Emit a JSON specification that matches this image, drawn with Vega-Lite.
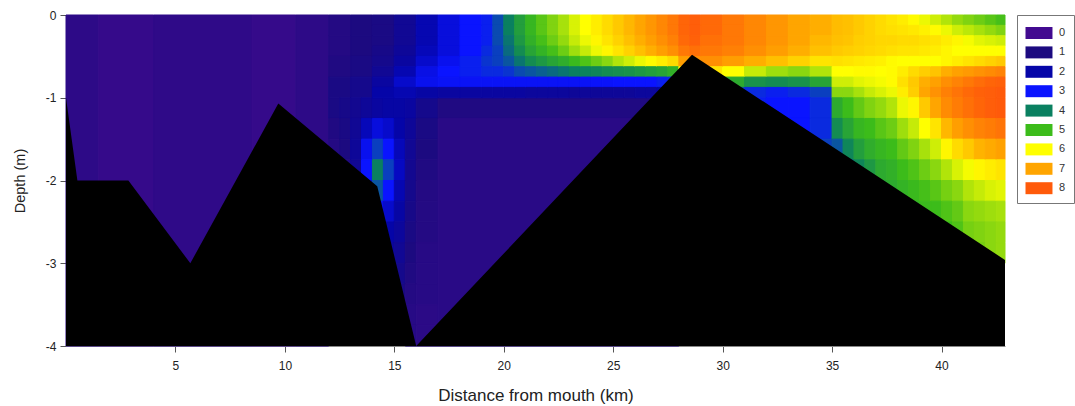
{
"$schema": "https://vega.github.io/schema/vega-lite/v6.json",
"width": 939, "height": 331,
"autosize": "none",
"padding": {"left": 66, "top": 15, "right": 70, "bottom": 60},
"background": "white",
"config": {"view": {"stroke": null}, "font": "Liberation Sans",
  "axis": {"grid": false, "tickSize": 6, "tickColor": "#555", "domainColor": "#888", "labelFontSize": 12, "labelColor": "#222", "titleFontWeight": "normal", "titleColor": "#222"}},
"layer": [
{
"data": {"values": [
{"x":0,"x2":1.5,"y":0,"y2":-4,"v":0.55},{"x":1.5,"x2":4,"y":0,"y2":-4,"v":0.35},{"x":4,"x2":8.5,"y":0,"y2":-4,"v":0.5},{"x":8.5,"x2":10.5,"y":0,"y2":-4,"v":0.35},{"x":10.5,"x2":12,"y":0,"y2":-4,"v":0.55},
{"x":12,"x2":13,"y":0,"y2":-0.25,"v":0.8},{"x":12,"x2":13,"y":-0.25,"y2":-0.5,"v":0.8},{"x":12,"x2":13,"y":-0.5,"y2":-0.75,"v":0.9},{"x":12,"x2":13,"y":-0.75,"y2":-1,"v":1.1},
{"x":13,"x2":14,"y":0,"y2":-0.25,"v":1.0},{"x":13,"x2":14,"y":-0.25,"y2":-0.5,"v":1.0},{"x":13,"x2":14,"y":-0.5,"y2":-0.75,"v":1.1},{"x":13,"x2":14,"y":-0.75,"y2":-1,"v":1.3},
{"x":12,"x2":12.5,"y":-1,"y2":-1.25,"v":1.1},{"x":12,"x2":12.5,"y":-1.25,"y2":-1.5,"v":0.9},{"x":12,"x2":12.5,"y":-1.5,"y2":-1.75,"v":0.8},
{"x":12.5,"x2":13,"y":-1,"y2":-1.25,"v":1.2},{"x":12.5,"x2":13,"y":-1.25,"y2":-1.5,"v":1.1},{"x":12.5,"x2":13,"y":-1.5,"y2":-1.75,"v":1.0},{"x":12.5,"x2":13,"y":-1.75,"y2":-2,"v":0.9},
{"x":13,"x2":13.5,"y":-1,"y2":-1.25,"v":1.4},{"x":13,"x2":13.5,"y":-1.25,"y2":-1.5,"v":1.5},{"x":13,"x2":13.5,"y":-1.5,"y2":-1.75,"v":1.6},{"x":13,"x2":13.5,"y":-1.75,"y2":-2,"v":1.5},
{"x":13.5,"x2":14,"y":-1,"y2":-1.25,"v":1.6},{"x":13.5,"x2":14,"y":-1.25,"y2":-1.5,"v":2.2},{"x":13.5,"x2":14,"y":-1.5,"y2":-1.75,"v":2.8},{"x":13.5,"x2":14,"y":-1.75,"y2":-2,"v":3.0},{"x":13.5,"x2":14,"y":-2,"y2":-2.25,"v":2.6},
{"x":14,"x2":14.5,"y":-1,"y2":-1.25,"v":1.8},{"x":14,"x2":14.5,"y":-1.25,"y2":-1.5,"v":2.6},{"x":14,"x2":14.5,"y":-1.5,"y2":-1.75,"v":3.4},{"x":14,"x2":14.5,"y":-1.75,"y2":-2,"v":4.0},{"x":14,"x2":14.5,"y":-2,"y2":-2.25,"v":3.6},{"x":14,"x2":14.5,"y":-2.25,"y2":-2.5,"v":2.8},
{"x":14.5,"x2":15,"y":-1,"y2":-1.25,"v":1.9},{"x":14.5,"x2":15,"y":-1.25,"y2":-1.5,"v":2.4},{"x":14.5,"x2":15,"y":-1.5,"y2":-1.75,"v":3.0},{"x":14.5,"x2":15,"y":-1.75,"y2":-2,"v":3.4},{"x":14.5,"x2":15,"y":-2,"y2":-2.25,"v":3.0},{"x":14.5,"x2":15,"y":-2.25,"y2":-2.5,"v":2.4},{"x":14.5,"x2":15,"y":-2.5,"y2":-2.75,"v":2.0},{"x":14.5,"x2":15,"y":-2.75,"y2":-3,"v":1.7},
{"x":15,"x2":15.5,"y":-1,"y2":-1.25,"v":1.9},{"x":15,"x2":15.5,"y":-1.25,"y2":-1.5,"v":2.0},{"x":15,"x2":15.5,"y":-1.5,"y2":-1.75,"v":2.2},{"x":15,"x2":15.5,"y":-1.75,"y2":-2,"v":2.3},{"x":15,"x2":15.5,"y":-2,"y2":-2.25,"v":2.1},{"x":15,"x2":15.5,"y":-2.25,"y2":-2.5,"v":1.9},{"x":15,"x2":15.5,"y":-2.5,"y2":-2.75,"v":1.7},{"x":15,"x2":15.5,"y":-2.75,"y2":-3,"v":1.5},{"x":15,"x2":15.5,"y":-3,"y2":-3.25,"v":1.3},{"x":15,"x2":15.5,"y":-3.25,"y2":-3.5,"v":1.1},
{"x":15.5,"x2":16,"y":-1,"y2":-1.25,"v":1.8},{"x":15.5,"x2":16,"y":-1.25,"y2":-1.5,"v":1.6},{"x":15.5,"x2":16,"y":-1.5,"y2":-1.75,"v":1.5},{"x":15.5,"x2":16,"y":-1.75,"y2":-2,"v":1.4},{"x":15.5,"x2":16,"y":-2,"y2":-2.25,"v":1.3},{"x":15.5,"x2":16,"y":-2.25,"y2":-2.5,"v":1.2},{"x":15.5,"x2":16,"y":-2.5,"y2":-2.75,"v":1.1},{"x":15.5,"x2":16,"y":-2.75,"y2":-3,"v":1.0},{"x":15.5,"x2":16,"y":-3,"y2":-3.25,"v":0.9},{"x":15.5,"x2":16,"y":-3.25,"y2":-3.5,"v":0.8},{"x":15.5,"x2":16,"y":-3.5,"y2":-3.75,"v":0.7},{"x":15.5,"x2":16,"y":-3.75,"y2":-4,"v":0.7},
{"x":16,"x2":17,"y":-1,"y2":-1.25,"v":1.3},{"x":16,"x2":17,"y":-1.25,"y2":-1.5,"v":1.1},{"x":16,"x2":17,"y":-1.5,"y2":-1.75,"v":1.0},{"x":16,"x2":17,"y":-1.75,"y2":-2,"v":0.9},{"x":16,"x2":17,"y":-2,"y2":-2.25,"v":0.8},{"x":16,"x2":17,"y":-2.25,"y2":-2.5,"v":0.8},{"x":16,"x2":17,"y":-2.5,"y2":-2.75,"v":0.8},{"x":16,"x2":17,"y":-2.75,"y2":-3,"v":0.7},{"x":16,"x2":17,"y":-3,"y2":-3.25,"v":0.7},{"x":16,"x2":17,"y":-3.25,"y2":-3.5,"v":0.7},{"x":16,"x2":17,"y":-3.5,"y2":-3.75,"v":0.6},{"x":16,"x2":17,"y":-3.75,"y2":-4,"v":0.6},
{"x":17,"x2":28,"y":-1,"y2":-1.25,"v":0.9},{"x":17,"x2":28,"y":-1.25,"y2":-4,"v":0.65},
{"x":14,"x2":15,"y":0,"y2":-0.125,"v":1.1},{"x":14,"x2":15,"y":-0.125,"y2":-0.25,"v":1.1},{"x":14,"x2":15,"y":-0.25,"y2":-0.375,"v":1.1},{"x":14,"x2":15,"y":-0.375,"y2":-0.5,"v":1.2},{"x":14,"x2":15,"y":-0.5,"y2":-0.625,"v":1.3},{"x":14,"x2":15,"y":-0.625,"y2":-0.75,"v":1.5},{"x":14,"x2":15,"y":-0.75,"y2":-0.875,"v":1.8},{"x":14,"x2":15,"y":-0.875,"y2":-1,"v":2.0},
{"x":15,"x2":16,"y":0,"y2":-0.125,"v":1.5},{"x":15,"x2":16,"y":-0.125,"y2":-0.25,"v":1.5},{"x":15,"x2":16,"y":-0.25,"y2":-0.375,"v":1.5},{"x":15,"x2":16,"y":-0.375,"y2":-0.5,"v":1.6},{"x":15,"x2":16,"y":-0.5,"y2":-0.625,"v":1.8},{"x":15,"x2":16,"y":-0.625,"y2":-0.75,"v":2.1},{"x":15,"x2":16,"y":-0.75,"y2":-0.875,"v":2.4},{"x":15,"x2":16,"y":-0.875,"y2":-1,"v":2.1},
{"x":16,"x2":17,"y":0,"y2":-0.125,"v":2.1},{"x":16,"x2":17,"y":-0.125,"y2":-0.25,"v":2.1},{"x":16,"x2":17,"y":-0.25,"y2":-0.375,"v":2.1},{"x":16,"x2":17,"y":-0.375,"y2":-0.5,"v":2.2},{"x":16,"x2":17,"y":-0.5,"y2":-0.625,"v":2.4},{"x":16,"x2":17,"y":-0.625,"y2":-0.75,"v":2.7},{"x":16,"x2":17,"y":-0.75,"y2":-0.875,"v":2.8},{"x":16,"x2":17,"y":-0.875,"y2":-1,"v":1.9},
{"x":17,"x2":18,"y":0,"y2":-0.125,"v":2.6},{"x":17,"x2":18,"y":-0.125,"y2":-0.25,"v":2.6},{"x":17,"x2":18,"y":-0.25,"y2":-0.375,"v":2.6},{"x":17,"x2":18,"y":-0.375,"y2":-0.5,"v":2.6},{"x":17,"x2":18,"y":-0.5,"y2":-0.625,"v":2.8},{"x":17,"x2":18,"y":-0.625,"y2":-0.75,"v":3.0},{"x":17,"x2":18,"y":-0.75,"y2":-0.875,"v":2.9},{"x":17,"x2":18,"y":-0.875,"y2":-1,"v":1.8},
{"x":18,"x2":19,"y":0,"y2":-0.125,"v":3.0},{"x":18,"x2":19,"y":-0.125,"y2":-0.25,"v":3.0},{"x":18,"x2":19,"y":-0.25,"y2":-0.375,"v":3.0},{"x":18,"x2":19,"y":-0.375,"y2":-0.5,"v":3.0},{"x":18,"x2":19,"y":-0.5,"y2":-0.625,"v":3.1},{"x":18,"x2":19,"y":-0.625,"y2":-0.75,"v":3.1},{"x":18,"x2":19,"y":-0.75,"y2":-0.875,"v":2.9},{"x":18,"x2":19,"y":-0.875,"y2":-1,"v":1.8},
{"x":19,"x2":19.5,"y":0,"y2":-0.125,"v":3.1},{"x":19,"x2":19.5,"y":-0.125,"y2":-0.25,"v":3.1},{"x":19,"x2":19.5,"y":-0.25,"y2":-0.375,"v":3.1},{"x":19,"x2":19.5,"y":-0.375,"y2":-0.5,"v":3.2},{"x":19,"x2":19.5,"y":-0.5,"y2":-0.625,"v":3.3},{"x":19,"x2":19.5,"y":-0.625,"y2":-0.75,"v":3.2},{"x":19,"x2":19.5,"y":-0.75,"y2":-0.875,"v":2.9},{"x":19,"x2":19.5,"y":-0.875,"y2":-1,"v":1.8},
{"x":19.5,"x2":20,"y":0,"y2":-0.125,"v":3.5},{"x":19.5,"x2":20,"y":-0.125,"y2":-0.25,"v":3.5},{"x":19.5,"x2":20,"y":-0.25,"y2":-0.375,"v":3.5},{"x":19.5,"x2":20,"y":-0.375,"y2":-0.5,"v":3.4},{"x":19.5,"x2":20,"y":-0.5,"y2":-0.625,"v":3.4},{"x":19.5,"x2":20,"y":-0.625,"y2":-0.75,"v":3.2},{"x":19.5,"x2":20,"y":-0.75,"y2":-0.875,"v":2.9},{"x":19.5,"x2":20,"y":-0.875,"y2":-1,"v":1.8},
{"x":20,"x2":20.5,"y":0,"y2":-0.125,"v":4.0},{"x":20,"x2":20.5,"y":-0.125,"y2":-0.25,"v":4.0},{"x":20,"x2":20.5,"y":-0.25,"y2":-0.375,"v":3.9},{"x":20,"x2":20.5,"y":-0.375,"y2":-0.5,"v":3.8},{"x":20,"x2":20.5,"y":-0.5,"y2":-0.625,"v":3.6},{"x":20,"x2":20.5,"y":-0.625,"y2":-0.75,"v":3.3},{"x":20,"x2":20.5,"y":-0.75,"y2":-0.875,"v":2.9},{"x":20,"x2":20.5,"y":-0.875,"y2":-1,"v":1.8},
{"x":20.5,"x2":21,"y":0,"y2":-0.125,"v":4.5},{"x":20.5,"x2":21,"y":-0.125,"y2":-0.25,"v":4.5},{"x":20.5,"x2":21,"y":-0.25,"y2":-0.375,"v":4.4},{"x":20.5,"x2":21,"y":-0.375,"y2":-0.5,"v":4.2},{"x":20.5,"x2":21,"y":-0.5,"y2":-0.625,"v":3.9},{"x":20.5,"x2":21,"y":-0.625,"y2":-0.75,"v":3.5},{"x":20.5,"x2":21,"y":-0.75,"y2":-0.875,"v":2.9},{"x":20.5,"x2":21,"y":-0.875,"y2":-1,"v":1.8},
{"x":21,"x2":21.5,"y":0,"y2":-0.125,"v":4.9},{"x":21,"x2":21.5,"y":-0.125,"y2":-0.25,"v":4.9},{"x":21,"x2":21.5,"y":-0.25,"y2":-0.375,"v":4.8},{"x":21,"x2":21.5,"y":-0.375,"y2":-0.5,"v":4.6},{"x":21,"x2":21.5,"y":-0.5,"y2":-0.625,"v":4.2},{"x":21,"x2":21.5,"y":-0.625,"y2":-0.75,"v":3.6},{"x":21,"x2":21.5,"y":-0.75,"y2":-0.875,"v":2.9},{"x":21,"x2":21.5,"y":-0.875,"y2":-1,"v":1.7},
{"x":21.5,"x2":22,"y":0,"y2":-0.125,"v":5.15},{"x":21.5,"x2":22,"y":-0.125,"y2":-0.25,"v":5.15},{"x":21.5,"x2":22,"y":-0.25,"y2":-0.375,"v":5.05},{"x":21.5,"x2":22,"y":-0.375,"y2":-0.5,"v":4.85},{"x":21.5,"x2":22,"y":-0.5,"y2":-0.625,"v":4.4},{"x":21.5,"x2":22,"y":-0.625,"y2":-0.75,"v":3.7},{"x":21.5,"x2":22,"y":-0.75,"y2":-0.875,"v":2.9},{"x":21.5,"x2":22,"y":-0.875,"y2":-1,"v":1.7},
{"x":22,"x2":22.5,"y":0,"y2":-0.125,"v":5.35},{"x":22,"x2":22.5,"y":-0.125,"y2":-0.25,"v":5.35},{"x":22,"x2":22.5,"y":-0.25,"y2":-0.375,"v":5.25},{"x":22,"x2":22.5,"y":-0.375,"y2":-0.5,"v":5.05},{"x":22,"x2":22.5,"y":-0.5,"y2":-0.625,"v":4.6},{"x":22,"x2":22.5,"y":-0.625,"y2":-0.75,"v":3.8},{"x":22,"x2":22.5,"y":-0.75,"y2":-0.875,"v":2.9},{"x":22,"x2":22.5,"y":-0.875,"y2":-1,"v":1.7},
{"x":22.5,"x2":23,"y":0,"y2":-0.125,"v":5.55},{"x":22.5,"x2":23,"y":-0.125,"y2":-0.25,"v":5.55},{"x":22.5,"x2":23,"y":-0.25,"y2":-0.375,"v":5.45},{"x":22.5,"x2":23,"y":-0.375,"y2":-0.5,"v":5.25},{"x":22.5,"x2":23,"y":-0.5,"y2":-0.625,"v":4.75},{"x":22.5,"x2":23,"y":-0.625,"y2":-0.75,"v":3.9},{"x":22.5,"x2":23,"y":-0.75,"y2":-0.875,"v":2.9},{"x":22.5,"x2":23,"y":-0.875,"y2":-1,"v":1.7},
{"x":23,"x2":23.5,"y":0,"y2":-0.125,"v":5.8},{"x":23,"x2":23.5,"y":-0.125,"y2":-0.25,"v":5.8},{"x":23,"x2":23.5,"y":-0.25,"y2":-0.375,"v":5.7},{"x":23,"x2":23.5,"y":-0.375,"y2":-0.5,"v":5.5},{"x":23,"x2":23.5,"y":-0.5,"y2":-0.625,"v":4.95},{"x":23,"x2":23.5,"y":-0.625,"y2":-0.75,"v":4.0},{"x":23,"x2":23.5,"y":-0.75,"y2":-0.875,"v":2.9},{"x":23,"x2":23.5,"y":-0.875,"y2":-1,"v":1.6},
{"x":23.5,"x2":24,"y":0,"y2":-0.125,"v":6.0},{"x":23.5,"x2":24,"y":-0.125,"y2":-0.25,"v":6.0},{"x":23.5,"x2":24,"y":-0.25,"y2":-0.375,"v":5.9},{"x":23.5,"x2":24,"y":-0.375,"y2":-0.5,"v":5.7},{"x":23.5,"x2":24,"y":-0.5,"y2":-0.625,"v":5.1},{"x":23.5,"x2":24,"y":-0.625,"y2":-0.75,"v":4.05},{"x":23.5,"x2":24,"y":-0.75,"y2":-0.875,"v":2.9},{"x":23.5,"x2":24,"y":-0.875,"y2":-1,"v":1.6},
{"x":24,"x2":24.5,"y":0,"y2":-0.125,"v":6.2},{"x":24,"x2":24.5,"y":-0.125,"y2":-0.25,"v":6.2},{"x":24,"x2":24.5,"y":-0.25,"y2":-0.375,"v":6.1},{"x":24,"x2":24.5,"y":-0.375,"y2":-0.5,"v":5.9},{"x":24,"x2":24.5,"y":-0.5,"y2":-0.625,"v":5.25},{"x":24,"x2":24.5,"y":-0.625,"y2":-0.75,"v":4.1},{"x":24,"x2":24.5,"y":-0.75,"y2":-0.875,"v":2.95},{"x":24,"x2":24.5,"y":-0.875,"y2":-1,"v":1.6},
{"x":24.5,"x2":25,"y":0,"y2":-0.125,"v":6.4},{"x":24.5,"x2":25,"y":-0.125,"y2":-0.25,"v":6.4},{"x":24.5,"x2":25,"y":-0.25,"y2":-0.375,"v":6.3},{"x":24.5,"x2":25,"y":-0.375,"y2":-0.5,"v":6.1},{"x":24.5,"x2":25,"y":-0.5,"y2":-0.625,"v":5.4},{"x":24.5,"x2":25,"y":-0.625,"y2":-0.75,"v":4.2},{"x":24.5,"x2":25,"y":-0.75,"y2":-0.875,"v":2.95},{"x":24.5,"x2":25,"y":-0.875,"y2":-1,"v":1.6},
{"x":25,"x2":25.5,"y":0,"y2":-0.125,"v":6.6},{"x":25,"x2":25.5,"y":-0.125,"y2":-0.25,"v":6.6},{"x":25,"x2":25.5,"y":-0.25,"y2":-0.375,"v":6.5},{"x":25,"x2":25.5,"y":-0.375,"y2":-0.5,"v":6.3},{"x":25,"x2":25.5,"y":-0.5,"y2":-0.625,"v":5.6},{"x":25,"x2":25.5,"y":-0.625,"y2":-0.75,"v":4.25},{"x":25,"x2":25.5,"y":-0.75,"y2":-0.875,"v":3.0},{"x":25,"x2":25.5,"y":-0.875,"y2":-1,"v":1.6},
{"x":25.5,"x2":26,"y":0,"y2":-0.125,"v":6.8},{"x":25.5,"x2":26,"y":-0.125,"y2":-0.25,"v":6.8},{"x":25.5,"x2":26,"y":-0.25,"y2":-0.375,"v":6.7},{"x":25.5,"x2":26,"y":-0.375,"y2":-0.5,"v":6.5},{"x":25.5,"x2":26,"y":-0.5,"y2":-0.625,"v":5.75},{"x":25.5,"x2":26,"y":-0.625,"y2":-0.75,"v":4.3},{"x":25.5,"x2":26,"y":-0.75,"y2":-0.875,"v":3.0},{"x":25.5,"x2":26,"y":-0.875,"y2":-1,"v":1.6},
{"x":26,"x2":26.5,"y":0,"y2":-0.125,"v":7.0},{"x":26,"x2":26.5,"y":-0.125,"y2":-0.25,"v":7.0},{"x":26,"x2":26.5,"y":-0.25,"y2":-0.375,"v":6.9},{"x":26,"x2":26.5,"y":-0.375,"y2":-0.5,"v":6.7},{"x":26,"x2":26.5,"y":-0.5,"y2":-0.625,"v":5.9},{"x":26,"x2":26.5,"y":-0.625,"y2":-0.75,"v":4.4},{"x":26,"x2":26.5,"y":-0.75,"y2":-0.875,"v":3.0},{"x":26,"x2":26.5,"y":-0.875,"y2":-1,"v":1.7},
{"x":26.5,"x2":27,"y":0,"y2":-0.125,"v":7.2},{"x":26.5,"x2":27,"y":-0.125,"y2":-0.25,"v":7.2},{"x":26.5,"x2":27,"y":-0.25,"y2":-0.375,"v":7.1},{"x":26.5,"x2":27,"y":-0.375,"y2":-0.5,"v":6.9},{"x":26.5,"x2":27,"y":-0.5,"y2":-0.625,"v":6.05},{"x":26.5,"x2":27,"y":-0.625,"y2":-0.75,"v":4.5},{"x":26.5,"x2":27,"y":-0.75,"y2":-0.875,"v":3.0},{"x":26.5,"x2":27,"y":-0.875,"y2":-1,"v":1.7},
{"x":27,"x2":27.5,"y":0,"y2":-0.125,"v":7.4},{"x":27,"x2":27.5,"y":-0.125,"y2":-0.25,"v":7.4},{"x":27,"x2":27.5,"y":-0.25,"y2":-0.375,"v":7.3},{"x":27,"x2":27.5,"y":-0.375,"y2":-0.5,"v":7.1},{"x":27,"x2":27.5,"y":-0.5,"y2":-0.625,"v":6.2},{"x":27,"x2":27.5,"y":-0.625,"y2":-0.75,"v":4.6},{"x":27,"x2":27.5,"y":-0.75,"y2":-0.875,"v":3.1},{"x":27,"x2":27.5,"y":-0.875,"y2":-1,"v":1.9},
{"x":27.5,"x2":28,"y":0,"y2":-0.125,"v":7.6},{"x":27.5,"x2":28,"y":-0.125,"y2":-0.25,"v":7.6},{"x":27.5,"x2":28,"y":-0.25,"y2":-0.375,"v":7.5},{"x":27.5,"x2":28,"y":-0.375,"y2":-0.5,"v":7.3},{"x":27.5,"x2":28,"y":-0.5,"y2":-0.625,"v":6.4},{"x":27.5,"x2":28,"y":-0.625,"y2":-0.75,"v":4.8},{"x":27.5,"x2":28,"y":-0.75,"y2":-0.875,"v":3.2},{"x":27.5,"x2":28,"y":-0.875,"y2":-1,"v":2.0},
{"x":28,"x2":28.5,"y":0,"y2":-0.125,"v":7.85},{"x":28,"x2":28.5,"y":-0.125,"y2":-0.25,"v":7.85},{"x":28,"x2":28.5,"y":-0.25,"y2":-0.375,"v":7.8},{"x":28,"x2":28.5,"y":-0.375,"y2":-0.5,"v":7.6},{"x":28,"x2":28.5,"y":-0.5,"y2":-0.625,"v":7.1},{"x":28,"x2":28.5,"y":-0.625,"y2":-0.75,"v":6.0},
{"x":28.5,"x2":29,"y":0,"y2":-0.125,"v":7.95},{"x":28.5,"x2":29,"y":-0.125,"y2":-0.25,"v":7.95},{"x":28.5,"x2":29,"y":-0.25,"y2":-0.375,"v":7.9},{"x":28.5,"x2":29,"y":-0.375,"y2":-0.5,"v":7.7},{"x":28.5,"x2":29,"y":-0.5,"y2":-0.625,"v":7.3},{"x":28.5,"x2":29,"y":-0.625,"y2":-0.75,"v":6.3},
{"x":29,"x2":30,"y":0,"y2":-0.125,"v":7.8},{"x":29,"x2":30,"y":-0.125,"y2":-0.25,"v":7.8},{"x":29,"x2":30,"y":-0.25,"y2":-0.375,"v":7.7},{"x":29,"x2":30,"y":-0.375,"y2":-0.5,"v":7.6},{"x":29,"x2":30,"y":-0.5,"y2":-0.625,"v":7.3},{"x":29,"x2":30,"y":-0.625,"y2":-0.75,"v":6.3},
{"x":30,"x2":31,"y":0,"y2":-0.125,"v":7.6},{"x":30,"x2":31,"y":-0.125,"y2":-0.25,"v":7.6},{"x":30,"x2":31,"y":-0.25,"y2":-0.375,"v":7.6},{"x":30,"x2":31,"y":-0.375,"y2":-0.5,"v":7.5},{"x":30,"x2":31,"y":-0.5,"y2":-0.625,"v":7.1},{"x":30,"x2":31,"y":-0.625,"y2":-0.75,"v":6.0},{"x":30,"x2":31,"y":-0.75,"y2":-0.875,"v":4.7},{"x":30,"x2":31,"y":-0.875,"y2":-1,"v":3.6},
{"x":31,"x2":32,"y":0,"y2":-0.125,"v":7.4},{"x":31,"x2":32,"y":-0.125,"y2":-0.25,"v":7.4},{"x":31,"x2":32,"y":-0.25,"y2":-0.375,"v":7.4},{"x":31,"x2":32,"y":-0.375,"y2":-0.5,"v":7.3},{"x":31,"x2":32,"y":-0.5,"y2":-0.625,"v":6.9},{"x":31,"x2":32,"y":-0.625,"y2":-0.75,"v":5.7},{"x":31,"x2":32,"y":-0.75,"y2":-0.875,"v":4.3},{"x":31,"x2":32,"y":-0.875,"y2":-1,"v":3.2},
{"x":32,"x2":33,"y":0,"y2":-0.125,"v":7.2},{"x":32,"x2":33,"y":-0.125,"y2":-0.25,"v":7.2},{"x":32,"x2":33,"y":-0.25,"y2":-0.375,"v":7.2},{"x":32,"x2":33,"y":-0.375,"y2":-0.5,"v":7.1},{"x":32,"x2":33,"y":-0.5,"y2":-0.625,"v":6.7},{"x":32,"x2":33,"y":-0.625,"y2":-0.75,"v":5.5},{"x":32,"x2":33,"y":-0.75,"y2":-0.875,"v":4.2},{"x":32,"x2":33,"y":-0.875,"y2":-1,"v":3.1},
{"x":33,"x2":34,"y":0,"y2":-0.125,"v":7.0},{"x":33,"x2":34,"y":-0.125,"y2":-0.25,"v":7.0},{"x":33,"x2":34,"y":-0.25,"y2":-0.375,"v":7.0},{"x":33,"x2":34,"y":-0.375,"y2":-0.5,"v":6.9},{"x":33,"x2":34,"y":-0.5,"y2":-0.625,"v":6.5},{"x":33,"x2":34,"y":-0.625,"y2":-0.75,"v":5.4},{"x":33,"x2":34,"y":-0.75,"y2":-0.875,"v":4.3},{"x":33,"x2":34,"y":-0.875,"y2":-1,"v":3.2},
{"x":34,"x2":35,"y":0,"y2":-0.125,"v":6.9},{"x":34,"x2":35,"y":-0.125,"y2":-0.25,"v":6.9},{"x":34,"x2":35,"y":-0.25,"y2":-0.375,"v":6.8},{"x":34,"x2":35,"y":-0.375,"y2":-0.5,"v":6.7},{"x":34,"x2":35,"y":-0.5,"y2":-0.625,"v":6.3},{"x":34,"x2":35,"y":-0.625,"y2":-0.75,"v":5.6},{"x":34,"x2":35,"y":-0.75,"y2":-0.875,"v":4.6},{"x":34,"x2":35,"y":-0.875,"y2":-1,"v":3.4},
{"x":31,"x2":32,"y":-1,"y2":-1.25,"v":3.1},
{"x":32,"x2":33,"y":-1,"y2":-1.25,"v":3.0},
{"x":33,"x2":34,"y":-1,"y2":-1.25,"v":3.0},{"x":33,"x2":34,"y":-1.25,"y2":-1.5,"v":3.0},
{"x":34,"x2":35,"y":-1,"y2":-1.25,"v":3.2},{"x":34,"x2":35,"y":-1.25,"y2":-1.5,"v":3.2},{"x":34,"x2":35,"y":-1.5,"y2":-1.75,"v":3.4},
{"x":35,"x2":35.5,"y":0,"y2":-0.125,"v":6.75},{"x":35,"x2":35.5,"y":-0.125,"y2":-0.25,"v":6.75},{"x":35,"x2":35.5,"y":-0.25,"y2":-0.375,"v":6.7},{"x":35,"x2":35.5,"y":-0.375,"y2":-0.5,"v":6.6},{"x":35,"x2":35.5,"y":-0.5,"y2":-0.625,"v":6.35},{"x":35,"x2":35.5,"y":-0.625,"y2":-0.75,"v":6.0},{"x":35,"x2":35.5,"y":-0.75,"y2":-0.875,"v":5.75},{"x":35,"x2":35.5,"y":-0.875,"y2":-1,"v":5.4},
{"x":35,"x2":35.5,"y":-1,"y2":-1.25,"v":4.7},{"x":35,"x2":35.5,"y":-1.25,"y2":-1.5,"v":4.2},{"x":35,"x2":35.5,"y":-1.5,"y2":-1.75,"v":3.6},
{"x":35.5,"x2":36,"y":0,"y2":-0.125,"v":6.7},{"x":35.5,"x2":36,"y":-0.125,"y2":-0.25,"v":6.7},{"x":35.5,"x2":36,"y":-0.25,"y2":-0.375,"v":6.65},{"x":35.5,"x2":36,"y":-0.375,"y2":-0.5,"v":6.55},{"x":35.5,"x2":36,"y":-0.5,"y2":-0.625,"v":6.3},{"x":35.5,"x2":36,"y":-0.625,"y2":-0.75,"v":6.0},{"x":35.5,"x2":36,"y":-0.75,"y2":-0.875,"v":5.75},{"x":35.5,"x2":36,"y":-0.875,"y2":-1,"v":5.4},
{"x":35.5,"x2":36,"y":-1,"y2":-1.25,"v":5.0},{"x":35.5,"x2":36,"y":-1.25,"y2":-1.5,"v":4.6},{"x":35.5,"x2":36,"y":-1.5,"y2":-1.75,"v":4.1},{"x":35.5,"x2":36,"y":-1.75,"y2":-2,"v":3.7},
{"x":36,"x2":36.5,"y":0,"y2":-0.125,"v":6.6},{"x":36,"x2":36.5,"y":-0.125,"y2":-0.25,"v":6.6},{"x":36,"x2":36.5,"y":-0.25,"y2":-0.375,"v":6.55},{"x":36,"x2":36.5,"y":-0.375,"y2":-0.5,"v":6.5},{"x":36,"x2":36.5,"y":-0.5,"y2":-0.625,"v":6.25},{"x":36,"x2":36.5,"y":-0.625,"y2":-0.75,"v":6.05},{"x":36,"x2":36.5,"y":-0.75,"y2":-0.875,"v":5.85},{"x":36,"x2":36.5,"y":-0.875,"y2":-1,"v":5.55},
{"x":36,"x2":36.5,"y":-1,"y2":-1.25,"v":5.2},{"x":36,"x2":36.5,"y":-1.25,"y2":-1.5,"v":4.9},{"x":36,"x2":36.5,"y":-1.5,"y2":-1.75,"v":4.5},{"x":36,"x2":36.5,"y":-1.75,"y2":-2,"v":4.1},
{"x":36.5,"x2":37,"y":0,"y2":-0.125,"v":6.5},{"x":36.5,"x2":37,"y":-0.125,"y2":-0.25,"v":6.5},{"x":36.5,"x2":37,"y":-0.25,"y2":-0.375,"v":6.5},{"x":36.5,"x2":37,"y":-0.375,"y2":-0.5,"v":6.45},{"x":36.5,"x2":37,"y":-0.5,"y2":-0.625,"v":6.2},{"x":36.5,"x2":37,"y":-0.625,"y2":-0.75,"v":6.05},{"x":36.5,"x2":37,"y":-0.75,"y2":-0.875,"v":5.9},{"x":36.5,"x2":37,"y":-0.875,"y2":-1,"v":5.7},
{"x":36.5,"x2":37,"y":-1,"y2":-1.25,"v":5.35},{"x":36.5,"x2":37,"y":-1.25,"y2":-1.5,"v":5.0},{"x":36.5,"x2":37,"y":-1.5,"y2":-1.75,"v":4.75},{"x":36.5,"x2":37,"y":-1.75,"y2":-2,"v":4.4},
{"x":37,"x2":37.5,"y":0,"y2":-0.125,"v":6.4},{"x":37,"x2":37.5,"y":-0.125,"y2":-0.25,"v":6.4},{"x":37,"x2":37.5,"y":-0.25,"y2":-0.375,"v":6.45},{"x":37,"x2":37.5,"y":-0.375,"y2":-0.5,"v":6.4},{"x":37,"x2":37.5,"y":-0.5,"y2":-0.625,"v":6.15},{"x":37,"x2":37.5,"y":-0.625,"y2":-0.75,"v":6.0},{"x":37,"x2":37.5,"y":-0.75,"y2":-0.875,"v":5.95},{"x":37,"x2":37.5,"y":-0.875,"y2":-1,"v":5.8},
{"x":37,"x2":37.5,"y":-1,"y2":-1.25,"v":5.45},{"x":37,"x2":37.5,"y":-1.25,"y2":-1.5,"v":5.15},{"x":37,"x2":37.5,"y":-1.5,"y2":-1.75,"v":4.9},{"x":37,"x2":37.5,"y":-1.75,"y2":-2,"v":4.7},{"x":37,"x2":37.5,"y":-2,"y2":-2.25,"v":4.6},
{"x":37.5,"x2":38,"y":0,"y2":-0.125,"v":6.3},{"x":37.5,"x2":38,"y":-0.125,"y2":-0.25,"v":6.35},{"x":37.5,"x2":38,"y":-0.25,"y2":-0.375,"v":6.45},{"x":37.5,"x2":38,"y":-0.375,"y2":-0.5,"v":6.35},{"x":37.5,"x2":38,"y":-0.5,"y2":-0.625,"v":6.05},{"x":37.5,"x2":38,"y":-0.625,"y2":-0.75,"v":6.05},{"x":37.5,"x2":38,"y":-0.75,"y2":-0.875,"v":6.05},{"x":37.5,"x2":38,"y":-0.875,"y2":-1,"v":5.9},
{"x":37.5,"x2":38,"y":-1,"y2":-1.25,"v":5.6},{"x":37.5,"x2":38,"y":-1.25,"y2":-1.5,"v":5.25},{"x":37.5,"x2":38,"y":-1.5,"y2":-1.75,"v":5.0},{"x":37.5,"x2":38,"y":-1.75,"y2":-2,"v":4.8},{"x":37.5,"x2":38,"y":-2,"y2":-2.25,"v":4.7},
{"x":38,"x2":38.5,"y":0,"y2":-0.125,"v":6.2},{"x":38,"x2":38.5,"y":-0.125,"y2":-0.25,"v":6.3},{"x":38,"x2":38.5,"y":-0.25,"y2":-0.375,"v":6.4},{"x":38,"x2":38.5,"y":-0.375,"y2":-0.5,"v":6.3},{"x":38,"x2":38.5,"y":-0.5,"y2":-0.625,"v":6.0},{"x":38,"x2":38.5,"y":-0.625,"y2":-0.75,"v":6.2},{"x":38,"x2":38.5,"y":-0.75,"y2":-0.875,"v":6.35},{"x":38,"x2":38.5,"y":-0.875,"y2":-1,"v":6.2},
{"x":38,"x2":38.5,"y":-1,"y2":-1.25,"v":5.9},{"x":38,"x2":38.5,"y":-1.25,"y2":-1.5,"v":5.5},{"x":38,"x2":38.5,"y":-1.5,"y2":-1.75,"v":5.2},{"x":38,"x2":38.5,"y":-1.75,"y2":-2,"v":5.0},{"x":38,"x2":38.5,"y":-2,"y2":-2.25,"v":4.85},
{"x":38.5,"x2":39,"y":0,"y2":-0.125,"v":6.05},{"x":38.5,"x2":39,"y":-0.125,"y2":-0.25,"v":6.25},{"x":38.5,"x2":39,"y":-0.25,"y2":-0.375,"v":6.4},{"x":38.5,"x2":39,"y":-0.375,"y2":-0.5,"v":6.3},{"x":38.5,"x2":39,"y":-0.5,"y2":-0.625,"v":6.0},{"x":38.5,"x2":39,"y":-0.625,"y2":-0.75,"v":6.4},{"x":38.5,"x2":39,"y":-0.75,"y2":-0.875,"v":6.6},{"x":38.5,"x2":39,"y":-0.875,"y2":-1,"v":6.55},
{"x":38.5,"x2":39,"y":-1,"y2":-1.25,"v":6.1},{"x":38.5,"x2":39,"y":-1.25,"y2":-1.5,"v":5.7},{"x":38.5,"x2":39,"y":-1.5,"y2":-1.75,"v":5.35},{"x":38.5,"x2":39,"y":-1.75,"y2":-2,"v":5.1},{"x":38.5,"x2":39,"y":-2,"y2":-2.25,"v":4.95},{"x":38.5,"x2":39,"y":-2.25,"y2":-2.5,"v":4.85},
{"x":39,"x2":39.5,"y":0,"y2":-0.125,"v":5.9},{"x":39,"x2":39.5,"y":-0.125,"y2":-0.25,"v":6.15},{"x":39,"x2":39.5,"y":-0.25,"y2":-0.375,"v":6.35},{"x":39,"x2":39.5,"y":-0.375,"y2":-0.5,"v":6.25},{"x":39,"x2":39.5,"y":-0.5,"y2":-0.625,"v":6.0},{"x":39,"x2":39.5,"y":-0.625,"y2":-0.75,"v":6.55},{"x":39,"x2":39.5,"y":-0.75,"y2":-0.875,"v":6.9},{"x":39,"x2":39.5,"y":-0.875,"y2":-1,"v":7.0},
{"x":39,"x2":39.5,"y":-1,"y2":-1.25,"v":6.6},{"x":39,"x2":39.5,"y":-1.25,"y2":-1.5,"v":6.0},{"x":39,"x2":39.5,"y":-1.5,"y2":-1.75,"v":5.55},{"x":39,"x2":39.5,"y":-1.75,"y2":-2,"v":5.25},{"x":39,"x2":39.5,"y":-2,"y2":-2.25,"v":5.05},{"x":39,"x2":39.5,"y":-2.25,"y2":-2.5,"v":4.95},
{"x":39.5,"x2":40,"y":0,"y2":-0.125,"v":5.75},{"x":39.5,"x2":40,"y":-0.125,"y2":-0.25,"v":6.05},{"x":39.5,"x2":40,"y":-0.25,"y2":-0.375,"v":6.3},{"x":39.5,"x2":40,"y":-0.375,"y2":-0.5,"v":6.2},{"x":39.5,"x2":40,"y":-0.5,"y2":-0.625,"v":6.0},{"x":39.5,"x2":40,"y":-0.625,"y2":-0.75,"v":6.65},{"x":39.5,"x2":40,"y":-0.75,"y2":-0.875,"v":7.05},{"x":39.5,"x2":40,"y":-0.875,"y2":-1,"v":7.25},
{"x":39.5,"x2":40,"y":-1,"y2":-1.25,"v":7.0},{"x":39.5,"x2":40,"y":-1.25,"y2":-1.5,"v":6.3},{"x":39.5,"x2":40,"y":-1.5,"y2":-1.75,"v":5.75},{"x":39.5,"x2":40,"y":-1.75,"y2":-2,"v":5.4},{"x":39.5,"x2":40,"y":-2,"y2":-2.25,"v":5.15},{"x":39.5,"x2":40,"y":-2.25,"y2":-2.5,"v":5.0},
{"x":40,"x2":40.5,"y":0,"y2":-0.125,"v":5.6},{"x":40,"x2":40.5,"y":-0.125,"y2":-0.25,"v":5.9},{"x":40,"x2":40.5,"y":-0.25,"y2":-0.375,"v":6.2},{"x":40,"x2":40.5,"y":-0.375,"y2":-0.5,"v":6.1},{"x":40,"x2":40.5,"y":-0.5,"y2":-0.625,"v":6.1},{"x":40,"x2":40.5,"y":-0.625,"y2":-0.75,"v":6.9},{"x":40,"x2":40.5,"y":-0.75,"y2":-0.875,"v":7.3},{"x":40,"x2":40.5,"y":-0.875,"y2":-1,"v":7.5},
{"x":40,"x2":40.5,"y":-1,"y2":-1.25,"v":7.35},{"x":40,"x2":40.5,"y":-1.25,"y2":-1.5,"v":6.8},{"x":40,"x2":40.5,"y":-1.5,"y2":-1.75,"v":6.1},{"x":40,"x2":40.5,"y":-1.75,"y2":-2,"v":5.6},{"x":40,"x2":40.5,"y":-2,"y2":-2.25,"v":5.3},{"x":40,"x2":40.5,"y":-2.25,"y2":-2.5,"v":5.1},{"x":40,"x2":40.5,"y":-2.5,"y2":-2.75,"v":5.0},
{"x":40.5,"x2":41,"y":0,"y2":-0.125,"v":5.45},{"x":40.5,"x2":41,"y":-0.125,"y2":-0.25,"v":5.75},{"x":40.5,"x2":41,"y":-0.25,"y2":-0.375,"v":6.1},{"x":40.5,"x2":41,"y":-0.375,"y2":-0.5,"v":6.0},{"x":40.5,"x2":41,"y":-0.5,"y2":-0.625,"v":6.2},{"x":40.5,"x2":41,"y":-0.625,"y2":-0.75,"v":7.05},{"x":40.5,"x2":41,"y":-0.75,"y2":-0.875,"v":7.45},{"x":40.5,"x2":41,"y":-0.875,"y2":-1,"v":7.65},
{"x":40.5,"x2":41,"y":-1,"y2":-1.25,"v":7.55},{"x":40.5,"x2":41,"y":-1.25,"y2":-1.5,"v":7.1},{"x":40.5,"x2":41,"y":-1.5,"y2":-1.75,"v":6.4},{"x":40.5,"x2":41,"y":-1.75,"y2":-2,"v":5.8},{"x":40.5,"x2":41,"y":-2,"y2":-2.25,"v":5.4},{"x":40.5,"x2":41,"y":-2.25,"y2":-2.5,"v":5.2},{"x":40.5,"x2":41,"y":-2.5,"y2":-2.75,"v":5.1},
{"x":41,"x2":41.5,"y":0,"y2":-0.125,"v":5.35},{"x":41,"x2":41.5,"y":-0.125,"y2":-0.25,"v":5.65},{"x":41,"x2":41.5,"y":-0.25,"y2":-0.375,"v":5.95},{"x":41,"x2":41.5,"y":-0.375,"y2":-0.5,"v":6.0},{"x":41,"x2":41.5,"y":-0.5,"y2":-0.625,"v":6.3},{"x":41,"x2":41.5,"y":-0.625,"y2":-0.75,"v":7.15},{"x":41,"x2":41.5,"y":-0.75,"y2":-0.875,"v":7.6},{"x":41,"x2":41.5,"y":-0.875,"y2":-1,"v":7.8},
{"x":41,"x2":41.5,"y":-1,"y2":-1.25,"v":7.7},{"x":41,"x2":41.5,"y":-1.25,"y2":-1.5,"v":7.3},{"x":41,"x2":41.5,"y":-1.5,"y2":-1.75,"v":6.6},{"x":41,"x2":41.5,"y":-1.75,"y2":-2,"v":5.95},{"x":41,"x2":41.5,"y":-2,"y2":-2.25,"v":5.6},{"x":41,"x2":41.5,"y":-2.25,"y2":-2.5,"v":5.4},{"x":41,"x2":41.5,"y":-2.5,"y2":-2.75,"v":5.3},
{"x":41.5,"x2":42,"y":0,"y2":-0.125,"v":5.25},{"x":41.5,"x2":42,"y":-0.125,"y2":-0.25,"v":5.55},{"x":41.5,"x2":42,"y":-0.25,"y2":-0.375,"v":5.85},{"x":41.5,"x2":42,"y":-0.375,"y2":-0.5,"v":6.0},{"x":41.5,"x2":42,"y":-0.5,"y2":-0.625,"v":6.4},{"x":41.5,"x2":42,"y":-0.625,"y2":-0.75,"v":7.25},{"x":41.5,"x2":42,"y":-0.75,"y2":-0.875,"v":7.75},{"x":41.5,"x2":42,"y":-0.875,"y2":-1,"v":7.9},
{"x":41.5,"x2":42,"y":-1,"y2":-1.25,"v":7.85},{"x":41.5,"x2":42,"y":-1.25,"y2":-1.5,"v":7.45},{"x":41.5,"x2":42,"y":-1.5,"y2":-1.75,"v":6.85},{"x":41.5,"x2":42,"y":-1.75,"y2":-2,"v":6.1},{"x":41.5,"x2":42,"y":-2,"y2":-2.25,"v":5.7},{"x":41.5,"x2":42,"y":-2.25,"y2":-2.5,"v":5.45},{"x":41.5,"x2":42,"y":-2.5,"y2":-2.75,"v":5.35},{"x":41.5,"x2":42,"y":-2.75,"y2":-3,"v":5.3},
{"x":42,"x2":42.5,"y":0,"y2":-0.125,"v":5.15},{"x":42,"x2":42.5,"y":-0.125,"y2":-0.25,"v":5.45},{"x":42,"x2":42.5,"y":-0.25,"y2":-0.375,"v":5.8},{"x":42,"x2":42.5,"y":-0.375,"y2":-0.5,"v":6.0},{"x":42,"x2":42.5,"y":-0.5,"y2":-0.625,"v":6.5},{"x":42,"x2":42.5,"y":-0.625,"y2":-0.75,"v":7.35},{"x":42,"x2":42.5,"y":-0.75,"y2":-0.875,"v":7.85},{"x":42,"x2":42.5,"y":-0.875,"y2":-1,"v":7.95},
{"x":42,"x2":42.5,"y":-1,"y2":-1.25,"v":7.95},{"x":42,"x2":42.5,"y":-1.25,"y2":-1.5,"v":7.55},{"x":42,"x2":42.5,"y":-1.5,"y2":-1.75,"v":6.95},{"x":42,"x2":42.5,"y":-1.75,"y2":-2,"v":6.2},{"x":42,"x2":42.5,"y":-2,"y2":-2.25,"v":5.8},{"x":42,"x2":42.5,"y":-2.25,"y2":-2.5,"v":5.5},{"x":42,"x2":42.5,"y":-2.5,"y2":-2.75,"v":5.4},{"x":42,"x2":42.5,"y":-2.75,"y2":-3,"v":5.4},
{"x":42.5,"x2":42.9,"y":0,"y2":-0.125,"v":5.05},{"x":42.5,"x2":42.9,"y":-0.125,"y2":-0.25,"v":5.35},{"x":42.5,"x2":42.9,"y":-0.25,"y2":-0.375,"v":5.75},{"x":42.5,"x2":42.9,"y":-0.375,"y2":-0.5,"v":6.0},{"x":42.5,"x2":42.9,"y":-0.5,"y2":-0.625,"v":6.6},{"x":42.5,"x2":42.9,"y":-0.625,"y2":-0.75,"v":7.45},{"x":42.5,"x2":42.9,"y":-0.75,"y2":-0.875,"v":7.9},{"x":42.5,"x2":42.9,"y":-0.875,"y2":-1,"v":8.0},
{"x":42.5,"x2":42.9,"y":-1,"y2":-1.25,"v":8.0},{"x":42.5,"x2":42.9,"y":-1.25,"y2":-1.5,"v":7.65},{"x":42.5,"x2":42.9,"y":-1.5,"y2":-1.75,"v":7.05},{"x":42.5,"x2":42.9,"y":-1.75,"y2":-2,"v":6.3},{"x":42.5,"x2":42.9,"y":-2,"y2":-2.25,"v":5.85},{"x":42.5,"x2":42.9,"y":-2.25,"y2":-2.5,"v":5.55},{"x":42.5,"x2":42.9,"y":-2.5,"y2":-2.75,"v":5.45},{"x":42.5,"x2":42.9,"y":-2.75,"y2":-3,"v":5.45}
]},
"mark": {"type": "rect", "strokeWidth": 1},
"encoding": {
  "x": {"field": "x", "type": "quantitative", "scale": {"domain": [0, 42.9], "nice": false, "zero": false},
        "axis": {"title": "Distance from mouth (km)", "values": [5,10,15,20,25,30,35,40], "labelPadding": 8, "titlePadding": 16, "titleFontSize": 17}},
  "x2": {"field": "x2"},
  "y": {"field": "y", "type": "quantitative", "scale": {"domain": [-4, 0], "nice": false, "zero": false},
        "axis": {"title": "Depth (m)", "values": [0,-1,-2,-3,-4], "labelExpr": "'' + datum.value", "labelPadding": 4, "titlePadding": 18, "titleFontSize": 14.5}},
  "y2": {"field": "y2"},
  "color": {"field": "v", "type": "quantitative",
    "scale": {"type": "linear", "domain": [0,1,2,3,4,5,6,7,8], "range": ["#420a90","#1c0a80","#0505a8","#0a14ff","#0a8060","#3cbc1a","#ffff00","#ffa500","#ff5a0a"], "interpolate": "rgb"},
    "legend": {"type": "symbol", "values": [0,1,2,3,4,5,6,7,8], "title": null, "orient": "right", "offset": 12,
      "symbolType": "M-1,-0.63H1.84V0.63H-1Z", "symbolSize": 361, "symbolStrokeWidth": 0, "labelFontSize": 11, "labelColor": "#333",
      "strokeColor": "#777", "fillColor": "white", "padding": 8.5, "rowPadding": 3.4, "labelOffset": 14.5}},
  "stroke": {"field": "v", "type": "quantitative",
    "scale": {"type": "linear", "domain": [0,1,2,3,4,5,6,7,8], "range": ["#420a90","#1c0a80","#0505a8","#0a14ff","#0a8060","#3cbc1a","#ffff00","#ffa500","#ff5a0a"], "interpolate": "rgb"},
    "legend": null}
}
},
{
"data": {"values": [
{"km":0,"depth":-1},{"km":0.52,"depth":-2},{"km":2.85,"depth":-2},{"km":5.68,"depth":-3},{"km":9.7,"depth":-1.07},{"km":14.22,"depth":-2.07},{"km":16.0,"depth":-4},{"km":28.6,"depth":-0.48},{"km":42.9,"depth":-2.96}
]},
"mark": {"type": "area", "color": "black", "interpolate": "linear"},
"encoding": {
  "x": {"field": "km", "type": "quantitative", "axis": {"title": "Distance from mouth (km)", "values": [5,10,15,20,25,30,35,40], "labelPadding": 8, "titlePadding": 16, "titleFontSize": 17}},
  "y": {"field": "depth", "type": "quantitative", "axis": {"title": "Depth (m)", "values": [0,-1,-2,-3,-4], "labelExpr": "'' + datum.value", "labelPadding": 4, "titlePadding": 18, "titleFontSize": 14.5}},
  "y2": {"datum": -4}
}
}
]
}
